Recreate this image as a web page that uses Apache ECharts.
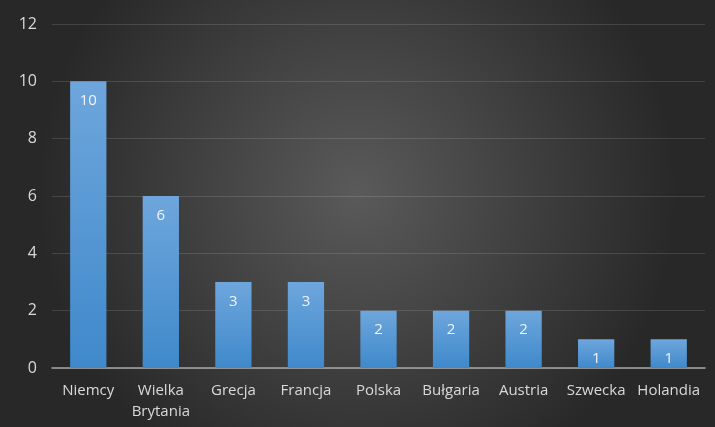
<!DOCTYPE html>
<html>
<head>
<meta charset="utf-8">
<script src="https://cdn.jsdelivr.net/npm/echarts@6/dist/echarts.min.js"></script>
<style>
    html, body { margin: 0; padding: 0; }
    #chart { width: 715px; height: 427px; }
</style>
</head>
<body>
<div id="chart"></div>
<script>
// kraje i liczby
const countries = ['Niemcy', 'Wielka\nBrytania', 'Grecja', 'Francja', 'Polska', 'Bułgaria', 'Austria', 'Szwecka', 'Holandia']
const counts = [10, 6, 3, 3, 2, 2, 2, 1, 1]
const yTicks = [0, 2, 4, 6, 8, 10, 12]

let myChart = echarts.init(document.getElementById('chart'))
let option = {
    backgroundColor: new echarts.graphic.RadialGradient(0.5, 0.45, 0.75, [
        { offset: 0, color: '#5a5a5a' },
        { offset: 1, color: '#282828' }
    ]),
    textStyle: { fontFamily: 'Open Sans' },
    grid: {
        left: 52,
        right: 10,
        top: 24,
        bottom: 59
    },
    xAxis: {
        type: 'category',
        data: countries,
        axisTick: { show: false },
        axisLine: { lineStyle: { color: '#a6a6a6', width: 1.5 } },
        axisLabel: {
            color: '#d9d9d9',
            fontSize: 15,
            margin: 12,
            lineHeight: 21,
            interval: 0
        }
    },
    yAxis: {
        type: 'value',
        min: yTicks[0],
        max: yTicks[yTicks.length - 1],
        interval: 2,
        axisLine: { show: false },
        axisTick: { show: false },
        axisLabel: { color: '#d9d9d9', fontSize: 16, margin: 15 },
        splitLine: { lineStyle: { color: 'rgba(255,255,255,0.13)', width: 1 } }
    },
    series: [
        {
            type: 'bar',
            data: counts,
            barWidth: '50%',
            itemStyle: {
                color: new echarts.graphic.LinearGradient(0, 0, 0, 1, [
                    { offset: 0, color: '#6ea6dc' },
                    { offset: 1, color: '#3f89cb' }
                ])
            },
            label: {
                show: true,
                position: 'insideTop',
                distance: 12,
                color: '#eef4fa',
                fontSize: 15
            }
        }
    ]
}
myChart.setOption(option)
</script>
</body>
</html>
